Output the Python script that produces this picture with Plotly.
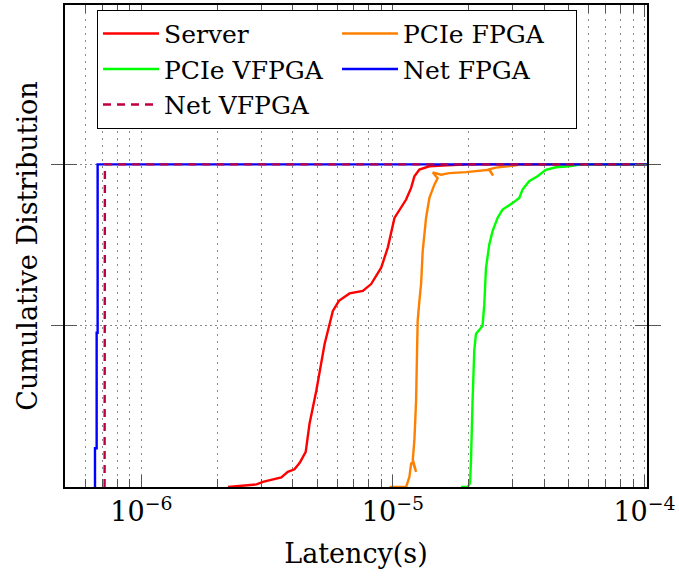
import math
import plotly.graph_objects as go

# Latency samples (seconds) and cumulative fraction for each setup
server_latency = [2.21e-6, 2.87e-6, 3.04e-6, 3.60e-6, 3.82e-6, 4.06e-6, 4.26e-6, 4.50e-6,
                  4.66e-6, 4.96e-6, 5.35e-6, 5.77e-6, 6.10e-6, 6.72e-6, 7.59e-6, 8.19e-6,
                  8.98e-6, 9.54e-6, 1.014e-5, 1.061e-5, 1.128e-5, 1.181e-5, 1.217e-5,
                  1.274e-5, 1.396e-5, 1.572e-5, 2.0e-5, 1.2e-4]
server_cdf = [0.0, 0.008, 0.016, 0.030, 0.047, 0.055, 0.075, 0.109,
              0.196, 0.299, 0.443, 0.546, 0.577, 0.600, 0.608, 0.629,
              0.680, 0.742, 0.834, 0.860, 0.891, 0.927, 0.963,
              0.984, 0.994, 0.996, 1.0, 1.0]

pcie_fpga_latency = [9.69e-6, 1.128e-5, 1.163e-5, 1.181e-5, 1.199e-5, 1.236e-5, 1.199e-5,
                     1.217e-5, 1.236e-5, 1.247e-5, 1.254e-5, 1.274e-5, 1.294e-5, 1.313e-5,
                     1.354e-5, 1.396e-5, 1.461e-5, 1.505e-5, 1.44e-5, 1.553e-5, 1.675e-5,
                     1.952e-5, 2.271e-5, 2.415e-5, 2.50e-5, 2.415e-5, 2.567e-5, 2.90e-5,
                     3.3e-5, 1.2e-4]
pcie_fpga_cdf = [0.0, 0.0, 0.032, 0.073, 0.078, 0.047, 0.085,
                 0.145, 0.269, 0.423, 0.515, 0.577, 0.630, 0.731,
                 0.834, 0.896, 0.937, 0.957, 0.975, 0.968, 0.973,
                 0.976, 0.980, 0.983, 0.965, 0.985, 0.990, 0.994,
                 1.0, 1.0]

pcie_vfpga_latency = [1.865e-5, 1.981e-5, 2.025e-5, 2.043e-5, 2.073e-5, 2.105e-5, 2.138e-5,
                      2.204e-5, 2.271e-5, 2.307e-5, 2.343e-5, 2.415e-5, 2.489e-5, 2.605e-5,
                      2.727e-5, 2.988e-5, 3.177e-5, 3.275e-5, 3.479e-5, 3.754e-5, 4.053e-5,
                      4.442e-5, 5.017e-5, 5.6e-5, 1.2e-4]
pcie_vfpga_cdf = [0.0, 0.0, 0.011, 0.083, 0.269, 0.423, 0.474,
                  0.489, 0.500, 0.566, 0.678, 0.752, 0.793, 0.834,
                  0.860, 0.880, 0.896, 0.922, 0.948, 0.963, 0.983,
                  0.991, 0.994, 1.0, 1.0]

net_fpga_latency = [6.54e-7, 6.54e-7, 6.64e-7, 6.64e-7, 6.70e-7, 6.70e-7, 1.2e-4]
net_fpga_cdf = [0.0, 0.12, 0.12, 0.478, 0.478, 1.0, 1.0]

net_vfpga_latency = [7.14e-7, 7.16e-7, 1.2e-4]
net_vfpga_cdf = [0.0, 1.0, 1.0]

decade_ticks = [1e-6, 1e-5, 1e-4]
decade_labels = ["10<sup>\u22126</sup>", "10<sup>\u22125</sup>", "10<sup>\u22124</sup>"]
minor_ticks = [m * 10.0 ** e for e in (-7, -6, -5) for m in range(2, 10)]

SERIF = "DejaVu Serif, Liberation Serif, Times New Roman, serif"

series = [
    ("Server", server_latency, server_cdf, "#FF0000", "solid"),
    ("PCIe FPGA", pcie_fpga_latency, pcie_fpga_cdf, "#FF8000", "solid"),
    ("PCIe VFPGA", pcie_vfpga_latency, pcie_vfpga_cdf, "#00FF00", "solid"),
    ("Net FPGA", net_fpga_latency, net_fpga_cdf, "#0000FF", "solid"),
    ("Net VFPGA", net_vfpga_latency, net_vfpga_cdf, "#BF0040", "8px,6px"),
]

x_range = [math.log10(4.97e-7), -3.9901]
y_range = [0, 1.494]

fig = go.Figure()
for name, xs, ys, color, dash in series:
    fig.add_trace(go.Scatter(
        x=xs, y=ys, mode="lines", name=name,
        line=dict(color=color, width=2.4, dash=dash),
    ))

# an invisible trace pins the minor-tick axis to the plot
fig.add_trace(go.Scatter(x=[1e-6], y=[0], xaxis="x2", yaxis="y", mode="markers",
                         marker=dict(opacity=0), showlegend=False, hoverinfo="skip"))

fig.update_layout(
    width=679, height=577,
    margin=dict(l=65, r=31, t=3, b=90),
    paper_bgcolor="white", plot_bgcolor="white",
    font=dict(family=SERIF, size=26, color="black"),
    showlegend=True,
    legend=dict(
        orientation="h", x=0.055, y=0.99, xanchor="left", yanchor="top",
        bgcolor="white", bordercolor="black", borderwidth=1,
        font=dict(family=SERIF, size=25),
        itemwidth=56,
        entrywidth=168, entrywidthmode="pixels",
        traceorder="normal",
    ),
    xaxis=dict(
        type="log",
        range=x_range,
        tickvals=decade_ticks, ticktext=decade_labels,
        tickfont=dict(family=SERIF, size=27),
        ticks="inside", ticklen=12, tickwidth=1, tickcolor="#555",
        showline=True, linecolor="black", linewidth=1.5, mirror="allticks",
        showgrid=True, gridcolor="#8a8a8a", griddash="2px,5px", gridwidth=1,
        zeroline=False,
        title=dict(text="Latency(s)", font=dict(family=SERIF, size=27), standoff=18),
    ),
    # secondary axis carrying the minor log ticks and their dotted grid
    xaxis2=dict(
        type="log", overlaying="x", side="bottom", anchor="y", range=x_range,
        tickvals=minor_ticks, showticklabels=False,
        ticks="inside", ticklen=8, tickwidth=1, tickcolor="#555",
        showline=False, mirror="allticks",
        showgrid=True, gridcolor="#8a8a8a", griddash="2px,5px", gridwidth=1,
        zeroline=False,
    ),
    yaxis=dict(
        range=y_range,
        tickvals=[0.5, 1.0], showticklabels=False,
        ticks="inside", ticklen=12, tickwidth=1, tickcolor="#555",
        showline=True, linecolor="black", linewidth=1.5, mirror="allticks",
        showgrid=True, gridcolor="#8a8a8a", griddash="2px,3px", gridwidth=1,
        zeroline=False,
        title=dict(text="Cumulative Distribution", font=dict(family=SERIF, size=27), standoff=18),
    ),
)

fig.write_html("out.html")
